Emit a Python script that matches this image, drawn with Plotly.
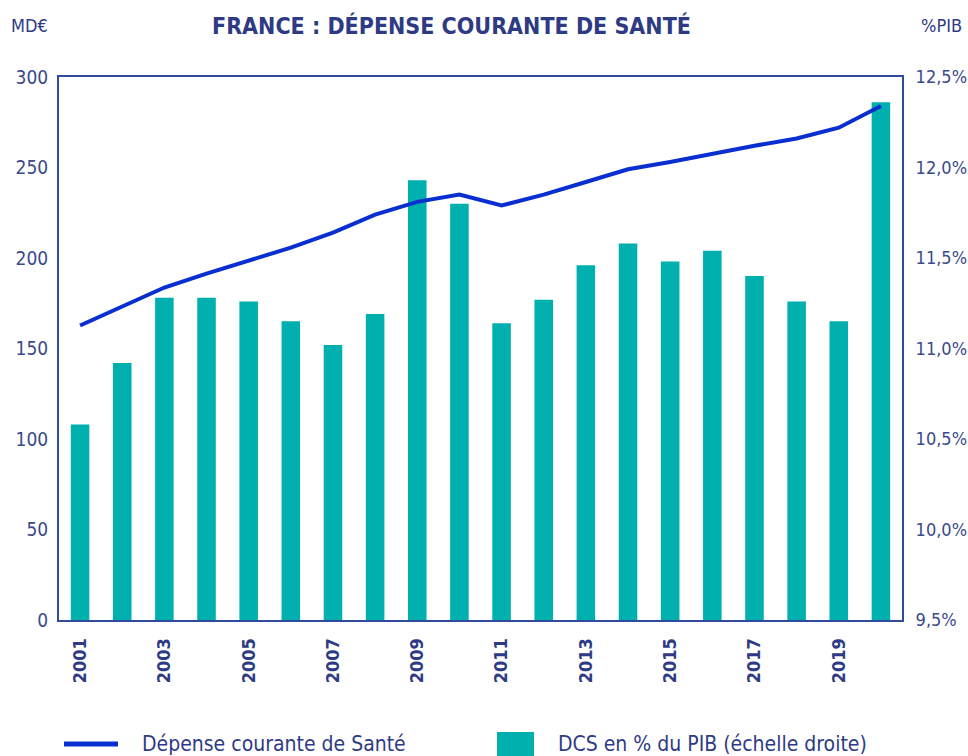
import plotly.graph_objects as go

years = list(range(2001, 2021))
dcs_md_eur = [162.7, 173.2, 183.7, 191.4, 198.6, 205.7, 214.0, 224.0, 231.0, 235.0,
              229.0, 235.0, 242.0, 249.0, 253.0, 257.6, 262.0, 266.0, 272.0, 284.0]
dcs_pct_pib = [10.58, 10.92, 11.28, 11.28, 11.26, 11.15, 11.02, 11.19, 11.93, 11.80,
               11.14, 11.27, 11.46, 11.58, 11.48, 11.54, 11.40, 11.26, 11.15, 12.36]
line_name = "Dépense courante de Santé"
bar_name = "DCS en % du PIB (échelle droite)"

NAVY = "#2e3b84"
TICK = "#3b4a8c"
AXIS = "#2f4b9b"
BAR = "#00b0ae"
LINE = "#0a2fd0"
FONT = "DejaVu Sans Condensed, Liberation Sans Narrow, Liberation Sans, sans-serif"

L, R, T, B = 59, 66, 77, 136
W, H = 968, 756
pw = W - L - R
ph = H - T - B

def px(xp):
    return (xp - L) / pw

def py(yp):
    return (H - B - yp) / ph

fig = go.Figure()
fig.add_trace(go.Bar(
    x=years, y=dcs_pct_pib, name=bar_name,
    marker=dict(color=BAR, line=dict(width=0)), yaxis="y", width=0.44,
))
fig.add_trace(go.Scatter(
    x=years, y=dcs_md_eur, name=line_name, mode="lines",
    line=dict(color=LINE, width=4), yaxis="y2",
))

fig.update_layout(
    width=W, height=H,
    margin=dict(l=L, r=R, t=T, b=B, autoexpand=False),
    paper_bgcolor="white", plot_bgcolor="white",
    separators=", ",
    font=dict(family=FONT, color=TICK, size=19),
    showlegend=False,
    xaxis=dict(range=[2000.5, 2020.5], tickmode="linear", tick0=2001, dtick=2,
               tickangle=-90, showgrid=False, zeroline=False,
               tickfont=dict(size=18, color=NAVY, family=FONT, weight="bold"),
               showline=True, linecolor=AXIS, linewidth=2, mirror=True,
               ticks="outside", ticklen=9, tickcolor="rgba(0,0,0,0)"),
    yaxis=dict(side="right", range=[9.5, 12.5], tickmode="linear", tick0=9.5, dtick=0.5,
               tickformat=".1f", ticksuffix="%", showgrid=False, zeroline=False,
               showline=True, linecolor=AXIS, linewidth=2, mirror=True,
               ticks="outside", ticklen=8, tickcolor="rgba(0,0,0,0)",
               tickfont=dict(size=18, color=TICK)),
    yaxis2=dict(side="left", overlaying="y", range=[0, 300], tickmode="linear", tick0=0, dtick=50,
                showgrid=False, zeroline=False, showline=False,
                ticks="outside", ticklen=6, tickcolor="rgba(0,0,0,0)",
                tickfont=dict(size=19, color=TICK)),
)

# Title and axis unit labels
fig.add_annotation(text="FRANCE : DÉPENSE COURANTE DE SANTÉ", x=px(451), y=py(26), xref="paper", yref="paper",
                   yanchor="middle", showarrow=False, font=dict(size=23, color=NAVY, family=FONT, weight="bold"))
fig.add_annotation(text="MD€", x=px(9), y=py(26), xref="paper", yref="paper", xanchor="left", yanchor="middle",
                   showarrow=False, font=dict(size=18, color=NAVY, family=FONT))
fig.add_annotation(text="%PIB", x=px(964), y=py(26), xref="paper", yref="paper", xanchor="right", yanchor="middle",
                   showarrow=False, font=dict(size=18, color=NAVY, family=FONT))

# Custom legend
fig.add_shape(type="line", xref="paper", yref="paper", x0=px(64), x1=px(118), y0=py(744), y1=py(744),
              line=dict(color=LINE, width=5))
fig.add_annotation(text=line_name, x=px(140), y=py(744), xref="paper", yref="paper", xanchor="left",
                   yanchor="middle", showarrow=False, font=dict(size=21, color=NAVY, family=FONT))
fig.add_shape(type="rect", xref="paper", yref="paper", x0=px(497), x1=px(534), y0=py(756), y1=py(732),
              line=dict(width=0), fillcolor=BAR)
fig.add_annotation(text=bar_name, x=px(556), y=py(744), xref="paper", yref="paper", xanchor="left",
                   yanchor="middle", showarrow=False, font=dict(size=21, color=NAVY, family=FONT))

fig.write_html("out.html", config={"displayModeBar": False},
               post_script="document.body.style.margin='0';document.body.style.overflow='hidden';")
